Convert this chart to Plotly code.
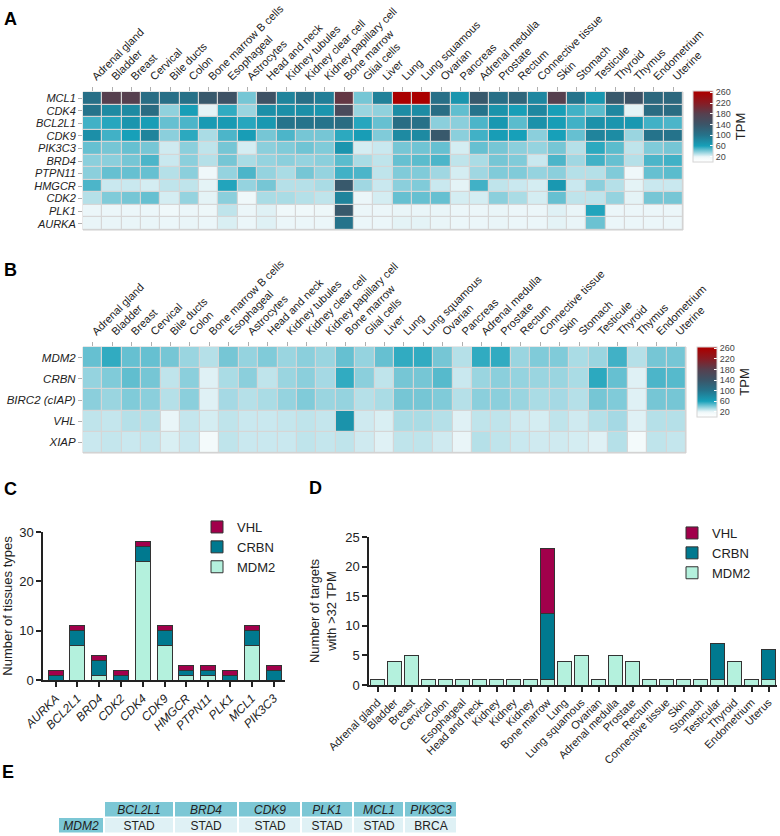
import plotly.graph_objects as go

# ---------------- data ----------------
tissues = ["Adrenal gland", "Bladder", "Breast", "Cervical", "Bile ducts", "Colon",
           "Bone marrow B cells", "Esophageal", "Astrocytes", "Head and neck",
           "Kidney tubules", "Kidney clear cell", "Kidney papillary cell", "Bone marrow",
           "Glial cells", "Liver", "Lung", "Lung squamous", "Ovarian", "Pancreas",
           "Adrenal medulla", "Prostate", "Rectum", "Connective tissue", "Skin", "Stomach",
           "Testicule", "Thyroid", "Thymus", "Endometrium", "Uterine"]

genes_a = ["MCL1", "CDK4", "BCL2L1", "CDK9", "PIK3C3", "BRD4", "PTPN11", "HMGCR", "CDK2", "PLK1", "AURKA"]
MCL1 = [105, 180, 180, 108, 105, 103, 135, 145, 42, 145, 85, 105, 90, 190, 42, 88, 260, 260, 105, 70, 135, 105, 118, 82, 180, 100, 68, 135, 145, 115, 115]
CDK4 = [100, 80, 80, 110, 37, 62, 21, 55, 35, 75, 75, 75, 70, 160, 35, 37, 78, 78, 108, 46, 100, 72, 62, 82, 62, 52, 47, 82, 21, 110, 110]
BCL2L1 = [52, 57, 70, 63, 45, 50, 65, 65, 57, 67, 100, 100, 100, 110, 57, 45, 108, 103, 38, 38, 50, 67, 47, 73, 63, 52, 73, 70, 67, 52, 50]
CDK9 = [75, 52, 60, 85, 38, 56, 32, 50, 63, 42, 50, 42, 42, 56, 63, 40, 80, 80, 135, 38, 52, 63, 60, 38, 60, 45, 85, 78, 35, 100, 100]
PIK3C3 = [45, 42, 45, 42, 25, 38, 28, 42, 24, 38, 40, 43, 40, 70, 24, 26, 42, 43, 45, 24, 45, 42, 38, 36, 42, 30, 56, 47, 28, 40, 42]
BRD4 = [38, 38, 42, 50, 26, 38, 30, 42, 32, 36, 38, 36, 38, 47, 32, 28, 45, 47, 50, 28, 32, 42, 40, 26, 50, 34, 52, 45, 30, 50, 52]
PTPN11 = [38, 45, 45, 45, 30, 38, 17, 36, 50, 36, 32, 42, 36, 52, 50, 28, 40, 40, 34, 24, 34, 40, 40, 36, 38, 30, 30, 40, 17, 45, 47]
HMGCR = [50, 26, 26, 24, 28, 28, 21, 58, 36, 42, 30, 30, 32, 135, 34, 26, 38, 40, 26, 21, 52, 28, 26, 24, 67, 26, 38, 30, 21, 26, 26]
CDK2 = [30, 40, 42, 45, 24, 36, 21, 38, 17, 32, 32, 30, 28, 85, 19, 24, 45, 45, 45, 24, 24, 38, 32, 24, 45, 28, 28, 36, 21, 42, 42]
PLK1 = [19, 19, 19, 19, 17, 19, 18, 28, 19, 22, 17, 17, 18, 135, 19, 19, 20, 20, 20, 19, 19, 20, 19, 19, 22, 20, 58, 19, 19, 19, 19]
AURKA = [20, 20, 20, 20, 19, 20, 19, 23, 19, 22, 19, 19, 19, 100, 19, 19, 21, 21, 20, 19, 19, 20, 19, 19, 21, 20, 44, 19, 19, 19, 19]

genes_b = ["MDM2", "CRBN", "BIRC2 (cIAP)", "VHL", "XIAP"]
MDM2_tpm = [45, 55, 45, 45, 42, 35, 30, 42, 36, 40, 35, 38, 35, 45, 36, 45, 55, 55, 42, 30, 55, 55, 35, 40, 40, 32, 35, 52, 30, 42, 42]
CRBN_tpm = [36, 40, 46, 42, 28, 38, 22, 32, 38, 28, 35, 38, 33, 55, 38, 28, 42, 42, 48, 26, 35, 38, 36, 35, 35, 32, 56, 45, 22, 50, 48]
BIRC2_tpm = [38, 35, 40, 38, 30, 38, 22, 33, 30, 32, 36, 40, 35, 36, 30, 32, 42, 42, 40, 30, 38, 38, 35, 32, 33, 30, 42, 40, 22, 42, 42]
VHL_tpm = [28, 27, 30, 30, 20, 27, 24, 28, 26, 26, 27, 28, 27, 72, 25, 23, 32, 32, 30, 22, 28, 28, 25, 24, 28, 25, 30, 33, 22, 30, 30]
XIAP_tpm = [26, 27, 26, 27, 23, 26, 15, 28, 26, 26, 26, 28, 27, 28, 25, 22, 28, 28, 25, 20, 30, 28, 26, 25, 25, 24, 22, 30, 15, 28, 27]

tpm_ticks = [20, 60, 100, 140, 180, 220, 260]

targets_c = ["AURKA", "BCL2L1", "BRD4", "CDK2", "CDK4", "CDK9", "HMGCR", "PTPN11", "PLK1", "MCL1", "PIK3C3"]
c_mdm2 = [None, 7, 1, None, 24, 7, 1, 1, None, 7, None]
c_crbn = [1, 3, 3, 1, 3, 3, 1, 1, 1, 3, 2]
c_vhl = [1, 1, 1, 1, 1, 1, 1, 1, 1, 1, 1]

tissues_d = ["Adrenal gland", "Bladder", "Breast", "Cervical", "Colon", "Esophageal",
             "Head and neck", "Kidney", "Kidney", "Kidney", "Bone marrow", "Lung",
             "Lung squamous", "Ovarian", "Adrenal medulla", "Prostate", "Rectum",
             "Connective tissue", "Skin", "Stomach", "Testicular", "Thyroid",
             "Endometrium", "Uterus"]
d_mdm2 = [1, 4, 5, 1, 1, 1, 1, 1, 1, 1, 1, 4, 5, 1, 5, 4, 1, 1, 1, 1, 1, 4, 1, 1]
d_crbn = [None] * 10 + [11] + [None] * 9 + [6, None, None, 5]
d_vhl = [None] * 10 + [11] + [None] * 13

table_header = ["", "BCL2L1", "BRD4", "CDK9", "PLK1", "MCL1", "PIK3C3"]
table_row_label = "MDM2"
table_row = ["STAD", "STAD", "STAD", "STAD", "STAD", "BRCA"]

# ---------------- styles ----------------
W, H = 780, 836
FONT = "Liberation Sans, Arial, sans-serif"
NARROW = "Liberation Sans Narrow, Liberation Sans, Arial, sans-serif"
col_vhl, col_crbn, col_mdm2 = "#a1004b", "#00798f", "#b4f1dd"
ZMAX = 265.0
stops = [(0, "#ffffff"), (15, "#f3fafb"), (20, "#e9f5f8"), (60, "#17a0b9"),
         (100, "#25738b"), (140, "#3b5568"), (180, "#56404f"), (220, "#881c24"),
         (260, "#aa0000"), (265, "#b00000")]
cscale = [[v / ZMAX, c] for v, c in stops]
table_colwidths = [46, 70, 64, 63, 52, 51, 53]


def px_x(p):
    return p / W


def px_y(p):
    return 1 - p / H


fig = go.Figure()


def cbar(x_px, ytop, ybot):
    return dict(x=px_x(x_px), xanchor="left", xpad=0, ypad=0,
                y=px_y((ytop + ybot) / 2), yanchor="middle",
                len=ybot - ytop, lenmode="pixels", thickness=20,
                tickvals=tpm_ticks, ticks="inside", ticklen=3, tickcolor="white",
                tickfont=dict(size=9, color="#444", family=FONT),
                outlinecolor="#d4d4d4", outlinewidth=1,
                title=dict(text="TPM", side="right", font=dict(size=13, color="#222", family=FONT)))


fig.add_trace(go.Heatmap(
    z=[MCL1, CDK4, BCL2L1, CDK9, PIK3C3, BRD4, PTPN11, HMGCR, CDK2, PLK1, AURKA],
    x=tissues, y=genes_a, colorscale=cscale, zmin=0, zmax=ZMAX,
    xgap=1.2, ygap=1.2, xaxis="x", yaxis="y",
    colorbar=cbar(693, 91, 162)))

fig.add_trace(go.Heatmap(
    z=[MDM2_tpm, CRBN_tpm, BIRC2_tpm, VHL_tpm, XIAP_tpm],
    x=tissues, y=genes_b, colorscale=cscale, zmin=0, zmax=ZMAX,
    xgap=1.2, ygap=1.2, xaxis="x2", yaxis="y2",
    colorbar=cbar(697, 347, 417)))

bar_line = dict(color="#333333", width=1)
fig.add_trace(go.Bar(x=targets_c, y=c_mdm2, name="MDM2", marker=dict(color=col_mdm2, line=bar_line),
                     width=0.69, xaxis="x3", yaxis="y3", legend="legend"))
fig.add_trace(go.Bar(x=targets_c, y=c_crbn, name="CRBN", marker=dict(color=col_crbn, line=bar_line),
                     width=0.69, xaxis="x3", yaxis="y3", legend="legend"))
fig.add_trace(go.Bar(x=targets_c, y=c_vhl, name="VHL", marker=dict(color=col_vhl, line=bar_line),
                     width=0.69, xaxis="x3", yaxis="y3", legend="legend"))

xd = list(range(len(tissues_d)))
fig.add_trace(go.Bar(x=xd, y=d_mdm2, name="MDM2", marker=dict(color=col_mdm2, line=bar_line),
                     width=0.78, xaxis="x4", yaxis="y4", legend="legend2"))
fig.add_trace(go.Bar(x=xd, y=d_crbn, name="CRBN", marker=dict(color=col_crbn, line=bar_line),
                     width=0.78, xaxis="x4", yaxis="y4", legend="legend2"))
fig.add_trace(go.Bar(x=xd, y=d_vhl, name="VHL", marker=dict(color=col_vhl, line=bar_line),
                     width=0.78, xaxis="x4", yaxis="y4", legend="legend2"))

# ---- table (panel E) drawn as a heatmap of cells with variable column widths ----
edges = [0]
for w in table_colwidths:
    edges.append(edges[-1] + w)
hdr_text = [("<i>%s</i>" % h) if h else "" for h in table_header]
row_text = ["<i>%s</i>" % table_row_label] + table_row
hdr_kind = [0] + [1] * (len(table_header) - 1)     # 0 = blank, 1 = dark fill, 2 = light fill
row_kind = [1] + [2] * len(table_row)
fig.add_trace(go.Heatmap(
    z=[hdr_kind, row_kind], x=edges, y=[0, 1, 2], text=[hdr_text, row_text],
    texttemplate="%{text}", textfont=dict(size=12, color="#222", family=NARROW),
    colorscale=[[0, "#ffffff"], [0.5, "#7cc7d5"], [1, "#dff1f5"]], zmin=0, zmax=2,
    showscale=False, xgap=2, ygap=1.5, hoverinfo="skip", xaxis="x5", yaxis="y5"))

hm_tick = dict(ticks="outside", ticklen=4, tickcolor="#b0b0b0", showgrid=False,
               zeroline=False, showline=False, automargin=False)
lin = dict(showline=True, linecolor="#222", linewidth=1.5, ticks="outside", ticklen=5,
           tickcolor="#222", tickwidth=1.5, showgrid=False, zeroline=False, automargin=False)
hidden = dict(visible=False, showgrid=False, zeroline=False, automargin=False)

fig.update_layout(
    width=W, height=H, margin=dict(l=0, r=0, t=0, b=0, autoexpand=False),
    paper_bgcolor="white", plot_bgcolor="white",
    font=dict(family=FONT, color="#222"),
    barmode="stack", showlegend=True,
    xaxis=dict(domain=[px_x(83), px_x(683)], anchor="y", side="top", tickangle=-45,
               tickmode="array", tickvals=tissues, ticktext=tissues,
               tickfont=dict(size=11, color="#222"), **hm_tick),
    yaxis=dict(domain=[px_y(230), px_y(92)], anchor="x", autorange="reversed",
               tickmode="array", tickvals=genes_a, ticktext=genes_a,
               tickfont=dict(size=11, style="italic", color="#222"), **hm_tick),
    xaxis2=dict(domain=[px_x(83), px_x(686)], anchor="y2", side="top", tickangle=-45,
                tickmode="array", tickvals=tissues, ticktext=tissues,
                tickfont=dict(size=11, color="#222"), **hm_tick),
    yaxis2=dict(domain=[px_y(453), px_y(347)], anchor="x2", autorange="reversed",
                tickmode="array", tickvals=genes_b, ticktext=genes_b,
                tickfont=dict(size=11.5, style="italic", color="#222"), **hm_tick),
    xaxis3=dict(domain=[px_x(43), px_x(285)], anchor="y3", range=[-0.58, 10.52],
                tickmode="array", tickvals=targets_c, ticktext=targets_c,
                tickangle=-45, tickfont=dict(size=12, style="italic", color="#222"), **lin),
    yaxis3=dict(domain=[px_y(680), px_y(532)], anchor="x3", range=[0, 30], dtick=10,
                tickfont=dict(size=13, color="#222"),
                title=dict(text="Number of tissues types", font=dict(size=13), standoff=6), **lin),
    xaxis4=dict(domain=[px_x(369), px_x(777)], anchor="y4", range=[-0.5, 23.5],
                tickmode="array", tickvals=xd, ticktext=tissues_d, tickangle=-45,
                tickfont=dict(size=11, color="#222"), **lin),
    yaxis4=dict(domain=[px_y(685), px_y(537)], anchor="x4", range=[0, 25], dtick=5,
                tickfont=dict(size=13, color="#222"),
                title=dict(text="Number of targets<br>with >32 TPM", font=dict(size=13), standoff=6), **lin),
    xaxis5=dict(domain=[px_x(58), px_x(58 + edges[-1])], anchor="y5", range=[0, edges[-1]], **hidden),
    yaxis5=dict(domain=[px_y(834), px_y(802)], anchor="x5", range=[2, 0], **hidden),
    legend=dict(x=px_x(197), y=px_y(512), xanchor="left", yanchor="top", traceorder="reversed",
                font=dict(size=13, color="#222"), bgcolor="rgba(0,0,0,0)", tracegroupgap=0),
    legend2=dict(x=px_x(672), y=px_y(518), xanchor="left", yanchor="top", traceorder="reversed",
                 font=dict(size=13, color="#222"), bgcolor="rgba(0,0,0,0)", tracegroupgap=0),
)

# grid backgrounds behind heatmaps
for xr, yr in (("x domain", "y domain"), ("x2 domain", "y2 domain")):
    fig.add_shape(type="rect", xref=xr, yref=yr, x0=0, x1=1, y0=0, y1=1,
                  fillcolor="#d6d6d6", line=dict(color="#d0d0d0", width=1), layer="below")

for letter, xp, yp in (("A", 2, 19), ("B", 2, 270), ("C", 2, 489), ("D", 307, 488), ("E", 0, 772)):
    fig.add_annotation(text="<b>%s</b>" % letter, x=px_x(xp), y=px_y(yp), xref="paper", yref="paper",
                       xanchor="left", yanchor="middle", showarrow=False,
                       font=dict(size=18, color="black", family=FONT))

fig.write_html("out.html", config={"displayModeBar": False},
               post_script="document.body.style.margin='0';document.body.style.overflow='hidden';")
